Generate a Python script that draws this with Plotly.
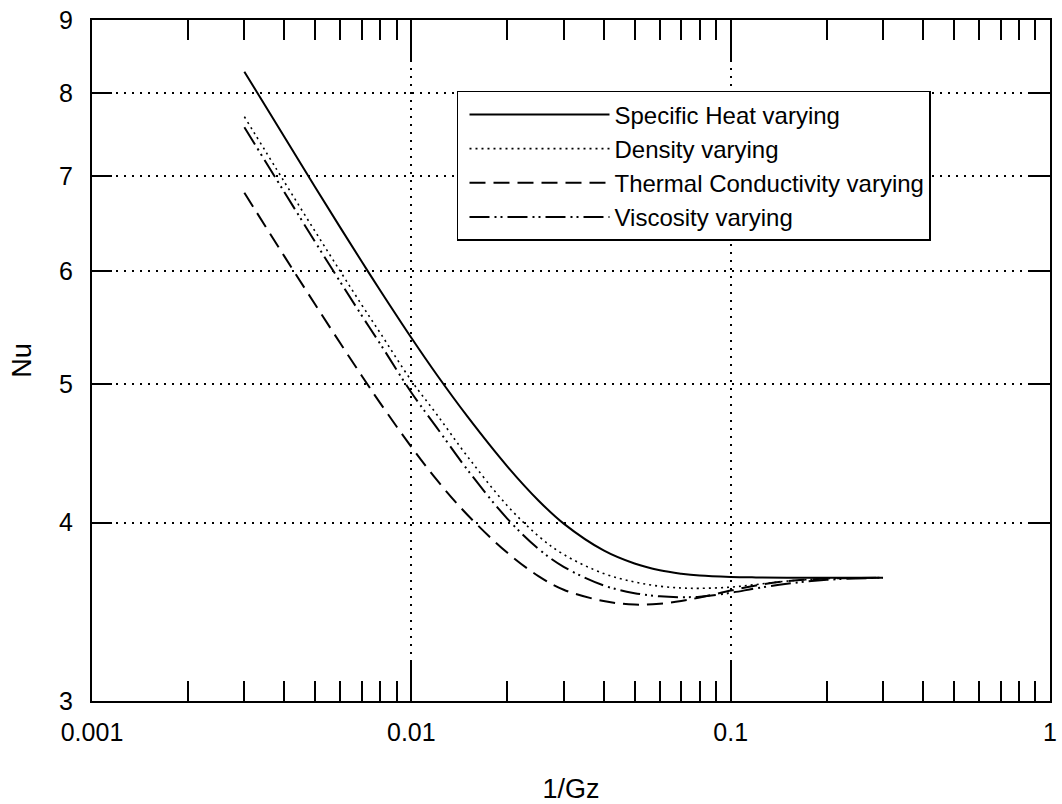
import plotly.graph_objects as go

# Inverse Graetz number (x) and local Nusselt number for each varying property
inv_gz = [0.003, 0.004, 0.005, 0.006, 0.007, 0.008, 0.01, 0.012, 0.015, 0.02,
          0.025, 0.03, 0.04, 0.05, 0.06, 0.07, 0.08, 0.1, 0.12, 0.15, 0.2, 0.3]

nu_specific_heat = [8.28, 7.455, 6.872, 6.436, 6.093, 5.815, 5.39, 5.08, 4.746, 4.379,
                    4.146, 3.994, 3.825, 3.745, 3.704, 3.684, 3.673, 3.665, 3.662, 3.66, 3.66, 3.66]
nu_density = [7.70, 6.933, 6.398, 5.997, 5.682, 5.43, 5.03, 4.765, 4.45, 4.11,
              3.915, 3.80, 3.685, 3.635, 3.61, 3.60, 3.598, 3.605, 3.62, 3.64, 3.655, 3.66]
nu_conductivity = [6.81, 6.149, 5.687, 5.34, 5.068, 4.849, 4.52, 4.287, 4.05, 3.81,
                   3.67, 3.59, 3.525, 3.505, 3.51, 3.525, 3.545, 3.585, 3.615, 3.64, 3.655, 3.66]
nu_viscosity = [7.57, 6.82, 6.29, 5.895, 5.585, 5.335, 4.935, 4.665, 4.355, 4.025,
                3.835, 3.725, 3.615, 3.57, 3.552, 3.547, 3.55, 3.572, 3.598, 3.625, 3.648, 3.66]

series_names = ["Specific Heat varying", "Density varying",
                "Thermal Conductivity varying", "Viscosity varying"]

x_major = [0.001, 0.01, 0.1, 1]
x_major_text = ["0.001", "0.01", "0.1", "1"]
y_ticks = [3, 4, 5, 6, 7, 8, 9]
y_tick_text = ["3", "4", "5", "6", "7", "8", "9"]
minor_mantissas = [2, 3, 4, 5, 6, 7, 8, 9]

FONT = "Liberation Sans, Arial, sans-serif"

styles = [
    dict(dash="solid", width=2),
    dict(dash="2px,4px", width=1.6),
    dict(dash="16px,8px", width=2),
    dict(dash="20px,5px,2px,4px,2px,5px", width=2),
]
series = [nu_specific_heat, nu_density, nu_conductivity, nu_viscosity]

fig = go.Figure()
for name, yv, st in zip(series_names, series, styles):
    fig.add_trace(go.Scatter(
        x=inv_gz, y=yv, name=name, mode="lines",
        line=dict(color="black", width=st["width"], dash=st["dash"],
                  shape="spline", smoothing=1.0),
    ))

x_minor = [m * d for d in x_major[:-1] for m in minor_mantissas]

fig.update_xaxes(
    type="log", range=[-3, 0], automargin=False,
    tickmode="array", tickvals=x_major, ticktext=x_major_text,
    ticks="inside", ticklen=40, tickwidth=2, tickcolor="black",
    minor=dict(tickmode="array", tickvals=x_minor, ticks="inside",
               ticklen=20, tickwidth=2, tickcolor="black", showgrid=False),
    showline=True, linewidth=2, linecolor="black", mirror="allticks",
    showgrid=True, gridcolor="black", gridwidth=1.5, griddash="2px,6px",
    zeroline=False, ticklabelstandoff=8,
    tickfont=dict(family=FONT, size=25, color="black"),
    title=dict(text="1/Gz", font=dict(family=FONT, size=27, color="black"),
               standoff=36),
)
fig.update_yaxes(
    type="log", range=[0.47712, 0.95424], automargin=False,
    tickmode="array", tickvals=y_ticks, ticktext=y_tick_text,
    ticks="inside", ticklen=20, tickwidth=2, tickcolor="black",
    showline=True, linewidth=2, linecolor="black", mirror="allticks",
    showgrid=True, gridcolor="black", gridwidth=1.5, griddash="2px,6px",
    zeroline=False, ticklabelstandoff=12,
    tickfont=dict(family=FONT, size=25, color="black"),
    title=dict(text="Nu", font=dict(family=FONT, size=27, color="black"),
               standoff=20),
)

fig.update_layout(
    width=1062, height=804,
    margin=dict(l=92, r=12, t=20, b=103),
    paper_bgcolor="white", plot_bgcolor="white",
    font=dict(family=FONT, color="black"),
    showlegend=True,
    legend=dict(
        x=0.381, y=0.896, xanchor="left", yanchor="top",
        bgcolor="white", bordercolor="black", borderwidth=1.5,
        font=dict(family=FONT, size=24, color="black"),
        itemwidth=140, tracegroupgap=0, indentation=6,
    ),
)

fig.write_html("out.html")
